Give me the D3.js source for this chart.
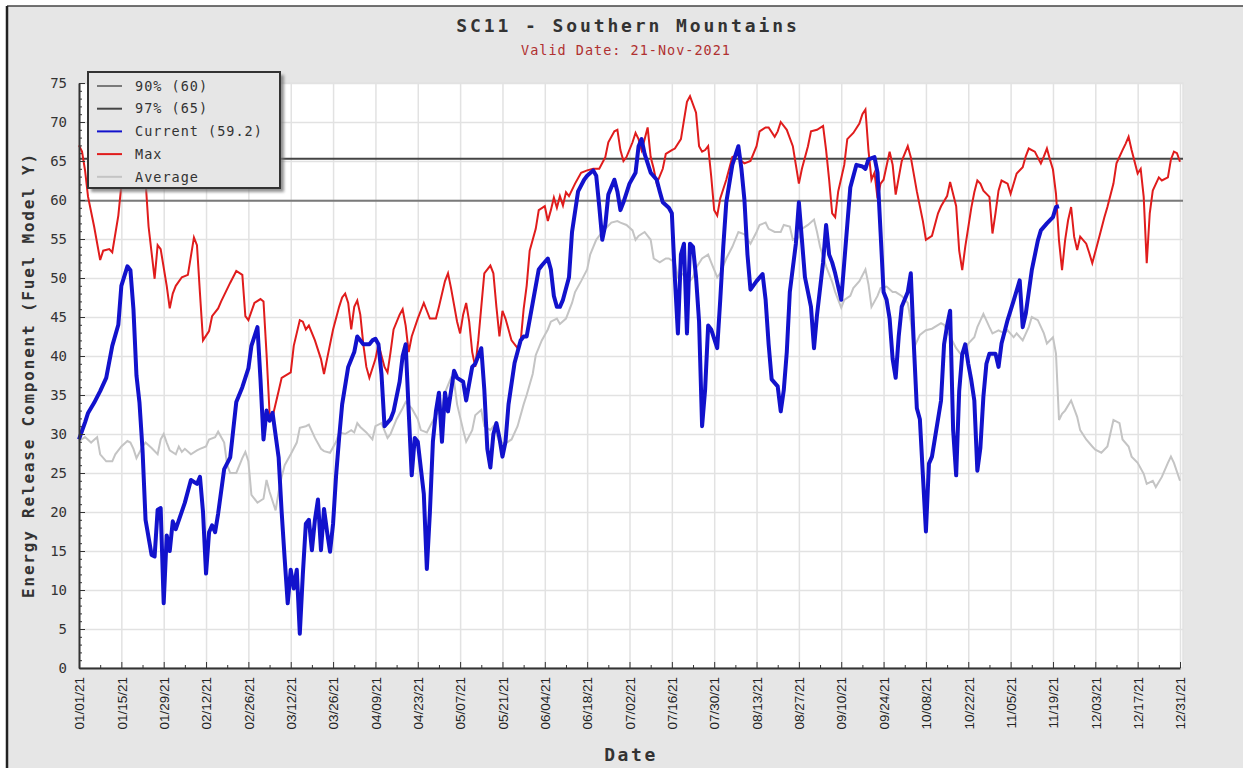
<!DOCTYPE HTML>
<html lang="en">
<head>
<meta charset="UTF-8">
<title>SC11 - Southern Mountains</title>
<script src="https://d3js.org/d3.v7.min.js"></script>
<style>
    body { margin: 0; background: #fff; }
    .mono { font-family: "DejaVu Sans Mono", monospace; }
    .axis path, .axis line { stroke: #333; }
    .grid path { stroke: none; }
    .grid line { stroke: #e2e2e2; stroke-width: 1.5; }
</style>
</head>
<body>
<svg width="1243" height="768"></svg>
<script>
// [day of 2021, ERC]
var currentPts = [[0,29.3],[2,31.5],[3,32.7],[5,34],[7,35.5],[9,37.2],[11,41.3],[13,44],[14,49],[16,51.5],[17,51],[18,46],[19,37.5],[20,34],[21,28],[22,19],[24,14.5],[25,14.3],[26,20.3],[27,20.5],[28,8.3],[29,17],[30,15],[31,18.8],[32,17.8],[35,21.2],[37,24.1],[39,23.6],[40,24.5],[41,20],[42,12.1],[43,17.4],[44,18.3],[45,17.4],[46,19.8],[48,25.5],[50,27],[52,34.1],[54,36],[56,38.4],[57,41.3],[59,43.7],[60,37],[61,29.3],[62,33],[63,31.7],[64,32.7],[66,27],[67,20],[68,14],[69,8.3],[70,12.6],[71,10.2],[72,12.6],[73,4.4],[74,12],[75,18.5],[76,19],[77,15.1],[78,19],[79,21.6],[80,15.1],[81,20.4],[82,17.5],[83,14.9],[84,18.5],[85,24.7],[86,29.5],[87,33.8],[89,38.6],[91,40.5],[92,42.5],[94,41.5],[96,41.5],[97,42],[98,42.2],[99,41.5],[100,37.7],[101,31],[103,31.9],[104,32.9],[106,36.7],[107,40],[108,41.5],[109,32.9],[110,24.7],[111,29.5],[112,29],[114,22.3],[115,12.7],[116,19.9],[117,29],[118,32.9],[119,35.3],[120,29],[121,35.3],[122,32.9],[124,38.1],[125,37.2],[127,36.7],[128,34.3],[130,38.6],[131,39],[132,40],[133,41],[134,35.7],[135,28.1],[136,25.7],[137,30],[138,31.4],[139,29.5],[140,27.1],[141,29],[142,33.8],[144,39.1],[146,42],[147,42.5],[148,42.5],[150,46.8],[152,51.1],[153,51.6],[155,52.5],[156,51.1],[157,47.7],[158,46.3],[159,46.3],[160,47.2],[162,50.1],[163,55.9],[165,61.1],[167,62.6],[168,63.1],[170,63.8],[171,63.1],[172,59.2],[173,54.9],[174,56.8],[175,60.7],[177,62.6],[178,61.1],[179,58.7],[180,59.7],[182,62.1],[184,63.5],[185,66.9],[186,67.8],[187,65.9],[189,63.5],[191,62.6],[192,61.1],[193,59.7],[195,59],[196,58.3],[197,50],[198,42.9],[199,53],[200,54.4],[201,42.9],[202,54.4],[203,54],[204,50.1],[205,44.4],[206,31],[207,35.7],[208,43.9],[209,43.4],[211,41],[212,47.2],[213,54],[214,59.7],[216,64.5],[218,66.9],[219,64],[220,60],[221,53],[222,48.5],[224,49.6],[226,50.5],[227,47.2],[228,41.5],[229,37],[231,36.1],[232,32.9],[233,35.6],[234,40.5],[235,48.2],[237,54.4],[238,59.7],[239,54.9],[240,50.1],[242,46.3],[243,41],[244,45.3],[246,52],[247,56.8],[248,53],[249,52],[250,50.6],[252,47.2],[253,52],[254,56.8],[255,61.6],[257,64.5],[259,64.3],[260,64],[261,65.2],[263,65.5],[264,63.5],[265,55.9],[266,48.2],[267,47.2],[268,44.8],[269,39.6],[270,37.2],[271,42.5],[272,46.3],[274,48.2],[275,50.6],[276,41.5],[277,33.3],[278,31.9],[279,24.7],[280,17.5],[281,26.2],[282,27.1],[283,29.5],[285,34.3],[286,41.5],[287,43.9],[288,45.8],[289,30.5],[290,24.7],[291,35.5],[292,40.2],[293,41.5],[294,39],[295,36.9],[296,34.3],[297,25.3],[298,28.2],[299,34.8],[300,39],[301,40.3],[303,40.3],[304,38.6],[305,41.6],[307,44.6],[309,47.1],[310,48.4],[311,49.7],[312,43.7],[313,45.4],[315,51],[317,54.8],[318,56.1],[320,57],[322,57.8],[323,59.1],[324,59.2]];

var maxPts = [[0,67],[1,66.2],[2,63.8],[3,60.4],[5,56.6],[7,52.3],[8,53.5],[10,53.7],[11,53.3],[13,58],[14,61.9],[16,63.5],[18,64.5],[20,64],[22,62.5],[23,56.6],[25,49.9],[26,54.2],[27,53.7],[29,49],[30,46.1],[31,48],[32,49],[34,50.1],[36,50.4],[38,55.2],[39,54.2],[40,48],[41,42],[43,43.2],[44,45.1],[46,46.1],[47,47],[50,49.4],[52,50.9],[54,50.4],[55,45.1],[56,44.6],[58,46.8],[60,47.3],[61,47],[62,40.3],[63,32.7],[64,32.2],[66,35.5],[67,37.2],[70,37.9],[71,41.3],[73,44.6],[74,44.4],[75,43.4],[76,43.9],[78,42],[80,39.6],[81,37.7],[82,39.6],[84,43.4],[86,46.3],[87,47.5],[88,48],[89,46.8],[90,43.4],[91,46.3],[92,47.1],[93,45.3],[94,41.5],[95,38.6],[96,37.2],[98,39.6],[99,41.5],[101,38.6],[102,37.9],[103,40.5],[104,43.4],[106,45.3],[107,46],[108,43.9],[109,40.5],[110,42.5],[112,44.8],[114,46.8],[115,45.8],[116,44.8],[118,44.8],[119,46.3],[121,49.6],[122,50.6],[123,48.7],[125,44.4],[126,42.9],[127,45.3],[128,46.8],[129,44.4],[130,40.5],[131,38.6],[132,42],[133,46.3],[134,50.6],[136,51.6],[137,50.6],[138,46.3],[139,42.5],[140,45.8],[141,44.8],[143,42],[145,41],[146,41.8],[147,46],[148,49],[149,53.5],[151,56.3],[152,58.7],[154,59.2],[155,57.3],[156,58.7],[157,60.3],[158,59],[159,60.5],[160,59.3],[161,61],[162,60.5],[164,62.1],[166,63.5],[168,63.8],[170,64],[172,64],[174,65.5],[175,67.4],[177,68.8],[178,69],[179,66.4],[180,65],[181,65.5],[183,67.4],[184,68.6],[185,67.8],[186,66.4],[187,67.8],[188,69.3],[189,65.5],[190,64],[191,62.1],[193,64],[194,65.9],[196,66.4],[197,66.6],[199,67.8],[200,70.2],[201,72.6],[202,73.3],[204,71.2],[205,66.9],[206,66.2],[207,66.4],[208,66.9],[209,63.1],[210,58.7],[211,58],[212,60.2],[214,62.6],[216,65.5],[218,65.8],[219,65],[220,64.7],[222,65],[224,66.9],[225,68.8],[227,69.3],[228,69.3],[230,68.1],[231,68.8],[232,70],[234,69],[236,66.9],[237,64.5],[238,62.1],[239,64],[241,66.9],[242,68.8],[244,69],[246,69.5],[247,66.4],[248,62.6],[249,58.3],[250,57.8],[251,61.1],[253,64.5],[254,67.8],[256,68.6],[258,69.8],[259,71],[260,71.6],[261,66.4],[262,62.6],[263,63.5],[264,60.2],[265,62.1],[266,62.6],[268,66.2],[269,64.5],[270,60.7],[272,65],[274,66.9],[275,65.5],[277,61.1],[279,57.3],[280,54.9],[282,55.4],[284,58.3],[285,59.2],[287,60.5],[288,62.3],[290,59.2],[291,53.5],[292,51],[293,54],[295,59],[296,61],[297,62.5],[298,62.1],[299,61.2],[301,60.4],[302,55.7],[303,58.3],[304,61.2],[305,62.5],[307,62.1],[308,60.8],[310,63.4],[312,64.2],[313,65.6],[314,66.6],[316,66.2],[318,64.7],[319,65.6],[320,66.6],[321,65.2],[322,63.9],[323,60.8],[324,54.8],[325,51],[326,54.8],[327,57.4],[328,59.1],[329,55.3],[330,53.6],[331,55.3],[333,54.4],[334,53.2],[335,51.9],[337,54.8],[339,57.8],[340,59.1],[342,62.1],[343,64.7],[345,66.4],[346,67.2],[347,68.1],[348,66.4],[350,63.4],[351,64],[352,60.4],[353,51.9],[354,58.3],[355,61.2],[357,62.9],[358,62.5],[360,62.9],[361,65.2],[362,66.2],[363,66],[364,64.9]];

var avgPts = [[0,29.1],[2,29.6],[4,28.9],[6,29.6],[7,27.4],[9,26.5],[11,26.5],[12,27.4],[14,28.4],[16,29.1],[17,28.9],[18,28.1],[19,26.9],[21,28.4],[22,28.9],[24,28.2],[26,27.4],[27,29.3],[28,30],[29,28.9],[30,27.9],[32,27.4],[33,28.4],[34,27.7],[35,28.1],[37,27.4],[39,27.9],[40,28.1],[42,28.4],[43,29.3],[45,29.6],[46,30.3],[48,28.9],[49,26],[50,25],[52,25],[54,26.9],[55,27.7],[56,26.5],[57,22.2],[59,21.2],[61,21.7],[62,24.1],[63,22.6],[65,20.2],[66,22.6],[67,24.5],[68,26],[70,27.4],[72,28.9],[73,30.8],[75,31],[76,31.2],[78,29.5],[80,28.1],[81,27.8],[83,27.6],[85,29],[86,30.2],[88,30],[90,30.5],[91,30.2],[92,31.4],[93,30.9],[95,30.2],[97,29.3],[98,31],[100,31.4],[102,29.5],[103,30],[105,31.9],[107,33.3],[108,34.1],[110,33.3],[112,31.9],[113,30.5],[115,30.2],[117,31.7],[118,32.4],[120,33.3],[121,35.3],[123,37.2],[124,36.7],[125,33.8],[127,30.5],[128,29],[130,30.5],[131,32.4],[133,33.1],[134,31],[136,30.5],[137,31],[139,29],[141,28.8],[143,29.3],[145,31],[147,33.8],[148,35],[150,37.7],[151,40.1],[153,42],[155,43.4],[156,44.4],[158,44.8],[159,44.1],[161,44.8],[163,46.8],[164,48.2],[166,49.6],[168,51.1],[169,53],[171,54.9],[173,55.9],[174,56.3],[176,57.1],[178,57.3],[179,57.1],[181,56.8],[183,56.1],[184,54.9],[185,55.4],[187,55.9],[189,54.9],[190,52.5],[192,52],[194,52.5],[195,52.5],[197,52],[198,50.1],[200,50.6],[201,49.2],[203,50.1],[204,51.3],[206,52.5],[208,53],[209,52],[211,50.1],[212,50.6],[214,52.5],[216,54],[218,55.9],[220,55.6],[222,54.4],[224,55.9],[225,56.8],[227,57.1],[228,56.3],[230,55.9],[232,55.9],[233,56.8],[235,56.6],[236,54.9],[238,55.2],[239,56.3],[241,56.8],[243,57.5],[244,55.9],[245,54],[247,51.5],[249,49.5],[250,48.2],[252,46.2],[253,47.2],[255,47.7],[256,48.7],[258,49.6],[260,51.1],[261,49.2],[262,46.3],[264,47.7],[265,48.7],[267,48.9],[269,48.2],[270,48.2],[272,47.7],[274,46.8],[275,44.4],[276,41],[278,42.7],[280,43.3],[282,43.5],[285,44.2],[286,44],[288,42.5],[290,41],[292,40],[294,41.6],[296,42.4],[297,43.7],[299,45.4],[301,43.7],[302,42.9],[304,43.3],[306,42.9],[307,43.3],[309,42.4],[310,42.9],[312,42],[314,43.7],[315,45],[317,44.6],[319,42.9],[320,41.6],[322,42.4],[323,40.3],[324,31.8],[325,32.6],[326,33],[328,34.3],[330,32.2],[331,30.5],[333,29.3],[335,28.4],[336,28],[338,27.6],[340,28.4],[341,30.1],[342,31.8],[344,31.4],[345,29.3],[347,28.4],[348,27.1],[350,26.3],[352,24.9],[353,23.6],[355,24],[356,23.2],[358,24.5],[360,26.3],[361,27.1],[362,26.3],[364,24]];

var pct90 = 59.9, pct97 = 65.3;   // percentile lines
var legendNames = ["90% (60)", "97% (65)", "Current (59.2)", "Max", "Average"];
var yTicks = [0,5,10,15,20,25,30,35,40,45,50,55,60,65,70,75];
var tickDays = d3.range(0, 365, 14);      // 01/01 .. 12/31
var minorDays = d3.range(7, 365, 14);

var colors = {p90:"#7a7a7a", p97:"#454545", cur:"#1212cc", max:"#e01c1c", avg:"#c4c4c4"};

(function() {
var svg = d3.select("svg");
var start = new Date(2021, 0, 1);
function day(d) { return d3.timeDay.offset(start, d); }

var pLeft = 79, pRight = 1180, pEdge = 1183, pTop = 83, pBottom = 668;

var x = d3.scaleTime().domain([start, day(364)]).range([pLeft, pRight]);
var y = d3.scaleLinear().domain([0, 75]).range([pBottom, pTop]);

// grey outer panel
svg.append("rect").attr("x", 7).attr("y", 6).attr("width", 1240).attr("height", 770).attr("fill", "#e6e6e6");
svg.append("line").attr("x1", 7).attr("y1", 6).attr("x2", 1243).attr("y2", 6).attr("stroke", "#444").attr("stroke-width", 1.5);
svg.append("line").attr("x1", 7).attr("y1", 6).attr("x2", 7).attr("y2", 768).attr("stroke", "#222").attr("stroke-width", 2.5);

// plot area
svg.append("rect").attr("x", pLeft).attr("y", pTop).attr("width", pEdge - pLeft).attr("height", pBottom - pTop)
    .attr("fill", "#fff").attr("stroke", "#e2e2e2").attr("stroke-width", 1.5);

// grid
svg.append("g").attr("class", "grid").attr("transform", "translate(0," + pBottom + ")")
    .call(d3.axisBottom(x).tickValues(tickDays.map(day)).tickSize(-(pBottom - pTop)).tickFormat(""));
svg.append("g").attr("class", "grid").attr("transform", "translate(" + pLeft + ",0)")
    .call(d3.axisLeft(y).tickValues(yTicks).tickSize(-(pEdge - pLeft)).tickFormat(""));

// percentile lines
[[pct90, colors.p90], [pct97, colors.p97]].forEach(function(p) {
    svg.append("line").attr("x1", pLeft).attr("x2", pEdge)
        .attr("y1", y(p[0])).attr("y2", y(p[0]))
        .attr("stroke", p[1]).attr("stroke-width", 2);
});

var line = d3.line()
    .x(function(d) { return x(day(d[0])); })
    .y(function(d) { return y(d[1]); });

svg.append("path").datum(avgPts).attr("d", line).attr("fill", "none").attr("stroke", colors.avg).attr("stroke-width", 2);
svg.append("path").datum(maxPts).attr("d", line).attr("fill", "none").attr("stroke", colors.max).attr("stroke-width", 2);
svg.append("path").datum(currentPts).attr("d", line).attr("fill", "none").attr("stroke", colors.cur)
    .attr("stroke-width", 4).attr("stroke-linejoin", "round");

// x axis, ticks point into the plot
var fmt = d3.timeFormat("%m/%d/%y");
var xAxis = svg.append("g").attr("class", "axis").attr("transform", "translate(0," + pBottom + ")")
    .call(d3.axisBottom(x).tickValues(tickDays.map(day)).tickSizeInner(-6).tickSizeOuter(0).tickFormat(fmt));
xAxis.select(".domain").attr("stroke-width", 2);
xAxis.selectAll("text")
    .attr("transform", "rotate(-90)")
    .attr("x", -9).attr("y", 0).attr("dy", "0.35em")
    .attr("text-anchor", "end")
    .attr("font-family", "'Liberation Sans', Arial, sans-serif")
    .attr("font-size", "13.5px").attr("fill", "#222");
svg.append("g").attr("class", "axis").attr("transform", "translate(0," + pBottom + ")")
    .call(d3.axisBottom(x).tickValues(minorDays.map(day)).tickSizeInner(-3).tickSizeOuter(0).tickFormat(""))
    .select(".domain").remove();

// y axis
var yAxis = svg.append("g").attr("class", "axis").attr("transform", "translate(" + pLeft + ",0)")
    .call(d3.axisLeft(y).tickValues(yTicks).tickSizeInner(-6).tickSizeOuter(0).tickPadding(12));
yAxis.select(".domain").attr("stroke-width", 2);
yAxis.selectAll("text").attr("class", "mono").attr("font-size", "14px").attr("fill", "#333");
svg.append("g").attr("class", "axis").attr("transform", "translate(" + pLeft + ",0)")
    .call(d3.axisLeft(y).tickValues(d3.range(0, 76, 1)).tickSizeInner(-3).tickSizeOuter(0).tickFormat(""))
    .select(".domain").remove();

// titles
svg.append("text").attr("class", "mono").attr("x", 628).attr("y", 32)
    .attr("text-anchor", "middle").attr("font-size", "18px").attr("font-weight", "bold")
    .attr("letter-spacing", "2.9px").attr("fill", "#333")
    .text("SC11 - Southern Mountains");
svg.append("text").attr("class", "mono").attr("x", 626).attr("y", 55)
    .attr("text-anchor", "middle").attr("font-size", "13.5px")
    .attr("letter-spacing", "1px").attr("fill", "#b03030")
    .text("Valid Date: 21-Nov-2021");
svg.append("text").attr("class", "mono").attr("x", 631).attr("y", 761)
    .attr("text-anchor", "middle").attr("font-size", "18px").attr("font-weight", "bold")
    .attr("letter-spacing", "2.6px").attr("fill", "#333")
    .text("Date");
svg.append("text").attr("class", "mono")
    .attr("transform", "translate(34,375) rotate(-90)")
    .attr("text-anchor", "middle").attr("font-size", "16px").attr("font-weight", "bold")
    .attr("letter-spacing", "1.8px").attr("fill", "#333")
    .text("Energy Release Component (Fuel Model Y)");

// legend
var defs = svg.append("defs");
defs.append("filter").attr("id", "blur").append("feGaussianBlur").attr("stdDeviation", 1.5);
var lg = svg.append("g");
lg.append("rect").attr("x", 91).attr("y", 75).attr("width", 193).attr("height", 117)
    .attr("fill", "#777").attr("opacity", 0.8).attr("filter", "url(#blur)");
lg.append("rect").attr("x", 88).attr("y", 72).attr("width", 192).attr("height", 116)
    .attr("fill", "#e6e6e6").attr("stroke", "#333").attr("stroke-width", 2);
var legendColors = [colors.p90, colors.p97, colors.cur, colors.max, colors.avg];
var rows = lg.selectAll(".row").data(legendNames).enter().append("g")
    .attr("transform", function(d, i) { return "translate(0," + (86 + i * 22.7) + ")"; });
rows.append("line").attr("x1", 97).attr("x2", 122)
    .attr("stroke", function(d, i) { return legendColors[i]; }).attr("stroke-width", 2);
rows.append("text").attr("class", "mono").attr("x", 135).attr("dy", "0.35em")
    .attr("font-size", "13.5px").attr("letter-spacing", "1px").attr("fill", "#333")
    .text(function(d) { return d; });
})();
</script>
</body>
</html>
